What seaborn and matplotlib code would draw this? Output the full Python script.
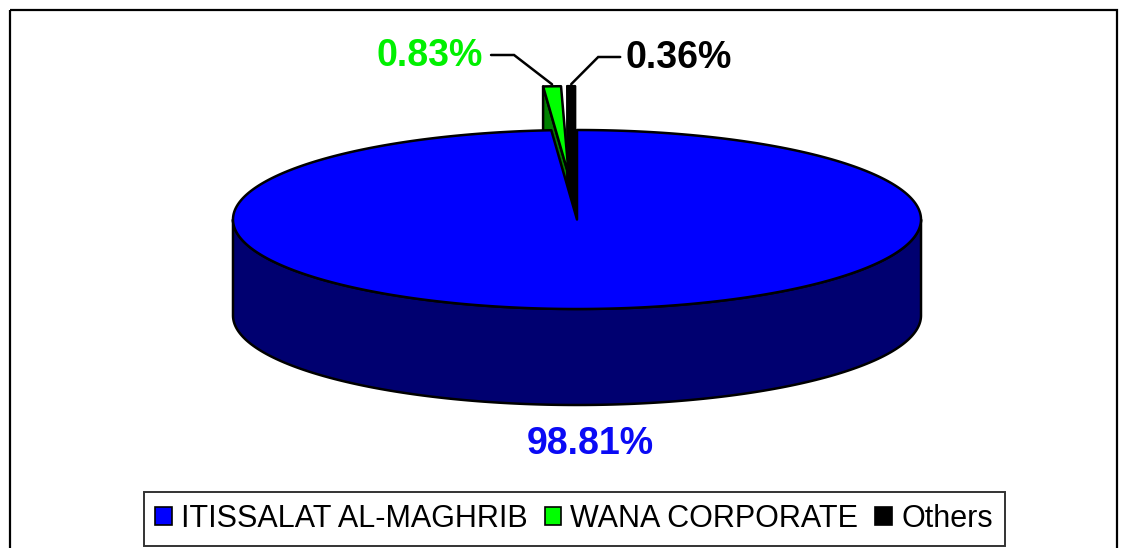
import numpy as np
import matplotlib
matplotlib.use("Agg")
import matplotlib.pyplot as plt
import seaborn as sns
from matplotlib.patches import Polygon, Rectangle, Patch

# ---------------- data ----------------
companies = ["ITISSALAT AL-MAGHRIB", "WANA CORPORATE", "Others"]
shares = [98.81, 0.83, 0.36]
top_colors = ["#0000FF", "#00FF00", "#000000"]
side_colors = ["#000070", "#008000", "#000000"]
label_colors = ["#0A0AF5", "#00F000", "#000000"]
explode = [0.0, 0.49, 0.49]

sns.set_theme(style="white")
plt.rcParams['font.family'] = ['Liberation Sans', 'DejaVu Sans']

W, H = 1128, 548
fig = plt.figure(figsize=(W / 100, H / 100), dpi=100)
ax = fig.add_axes([0, 0, 1, 1])
ax.set_xlim(0, W)
ax.set_ylim(H, 0)
ax.axis('off')

# pie geometry (pixel-like axes units)
cx, cy, a, b, depth = 577, 219.5, 344, 89.5, 96
EDGE = dict(edgecolor="black", linewidth=1.8, joinstyle="round")

vals = np.array(shares, dtype=float)
frac = vals / vals.sum()
cum = np.concatenate([[0], np.cumsum(frac)])
starts = np.radians(90 - 360 * cum[:-1])   # larger angle (ccw end)
ends = np.radians(90 - 360 * cum[1:])      # smaller angle


def P(theta, dx, dy, down=0.0):
    return np.column_stack([cx + dx + a * np.cos(theta),
                            cy + dy - b * np.sin(theta) + down])


def offset(i):
    m = (starts[i] + ends[i]) / 2
    return explode[i] * a * np.cos(m), -explode[i] * b * np.sin(m)


def side_patches(i):
    th0, th1 = ends[i], starts[i]
    dx, dy = offset(i)
    polys = []
    tip = np.array([[cx + dx, cy + dy]])
    if np.cos(th1) < -1e-9:
        r = P(np.array([th1]), dx, dy)
        top = np.vstack([tip, r])
        polys.append(np.vstack([top, (top + [0, depth])[::-1]]))
    if np.cos(th0) > 1e-9:
        r = P(np.array([th0]), dx, dy)
        top = np.vstack([tip, r])
        polys.append(np.vstack([top, (top + [0, depth])[::-1]]))
    for k in (-1, 0, 1):
        lo = max(th0, np.pi + 2 * np.pi * k)
        hi = min(th1, 2 * np.pi + 2 * np.pi * k)
        if hi > lo:
            t = np.linspace(lo, hi, 200)
            topa = P(t, dx, dy)
            bota = P(t, dx, dy, depth)
            polys.append(np.vstack([topa, bota[::-1]]))
    return polys


def top_patch(i):
    dx, dy = offset(i)
    n = max(4, int(abs(starts[i] - ends[i]) / (2 * np.pi) * 720))
    t = np.linspace(ends[i], starts[i], n)
    return np.vstack([[[cx + dx, cy + dy]], P(t, dx, dy)])


order_small = [i for i in range(len(vals)) if explode[i] > 0]
order_big = [i for i in range(len(vals)) if explode[i] == 0]

for group in (order_small, order_big):
    for i in group:
        for poly in side_patches(i):
            ax.add_patch(Polygon(poly, closed=True, facecolor=side_colors[i], **EDGE))
    for i in group:
        ax.add_patch(Polygon(top_patch(i), closed=True, facecolor=top_colors[i], **EDGE))

# ---------------- labels ----------------
lbl_font = dict(fontsize=27, fontweight="bold")
ax.text(590, cy + b + depth + 39, f"{shares[0]:.2f}%", color=label_colors[0],
        ha="center", va="center", **lbl_font)

# small slices with leader lines: (side, diag dx, horiz len, label y, gap)
leader = {1: (-1, 38, 23, 55, 8), 2: (1, 27, 22, 57, 5)}
for i in order_small:
    dx, dy = offset(i)
    m = (starts[i] + ends[i]) / 2
    rim = P(np.array([m]), dx, dy)[0]
    s, ddx, hl, ly, gap = leader[i]
    elbow = (rim[0] + s * ddx, ly)
    end = (elbow[0] + s * hl, ly)
    ax.plot([rim[0], elbow[0], end[0]], [rim[1] - 2, elbow[1], end[1]],
            color="black", lw=1.8, solid_joinstyle="miter")
    ax.text(end[0] + s * gap, ly + 1, f"{shares[i]:.2f}%", color=label_colors[i],
            ha="left" if s > 0 else "right", va="center", **lbl_font)

# ---------------- legend ----------------
handles = [Patch(facecolor=c, edgecolor="black", linewidth=1.2) for c in top_colors]
leg = ax.legend(handles, companies, loc="center", ncol=3,
                bbox_to_anchor=(574 / W, 1 - 519 / H), bbox_transform=fig.transFigure,
                fontsize=22, frameon=True, fancybox=False, edgecolor="black",
                handlelength=0.55, handleheight=0.55, handletextpad=0.3,
                columnspacing=0.55, borderpad=0.38, borderaxespad=0,
                labelcolor="black")
leg.get_frame().set_linewidth(1.4)
leg.get_frame().set_facecolor("white")

# ---------------- outer frame ----------------
ax.add_patch(Rectangle((10, 10), 1107, 600, fill=False, edgecolor="black",
                       linewidth=1.6, clip_on=False))

fig.savefig("out.png", dpi=100, facecolor="white")
